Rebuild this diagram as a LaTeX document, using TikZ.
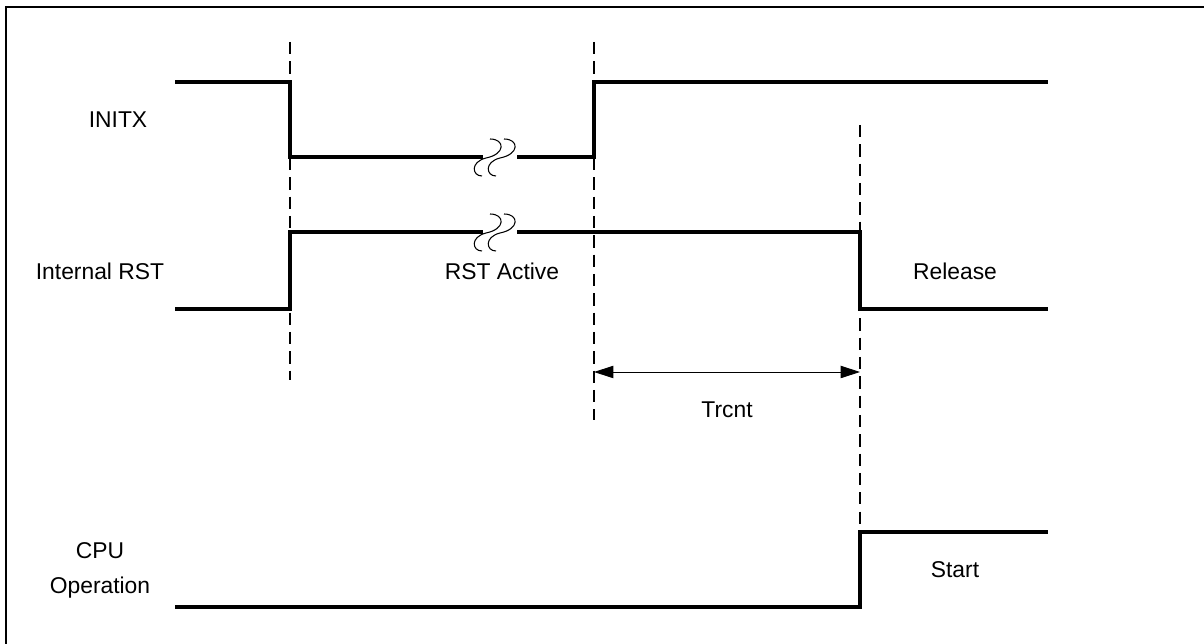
\documentclass[tikz,border=0pt]{standalone}
\usepackage{fontspec}
\setmainfont{Liberation Sans}
\usetikzlibrary{arrows.meta,positioning}
\tikzset{
  signal/.style={line width=2pt, line join=miter},
  marker/.style={line width=0.8pt, dash pattern=on 7pt off 4pt},
  span/.style={line width=0.5pt, {Triangle[length=11pt,width=7pt]}-{Triangle[length=11pt,width=7pt]}},
  lbl/.style={font=\fontsize{13}{20}\selectfont, align=center, inner sep=0pt},
  brk/.pic={
    \draw[line width=0.6pt] (-10,-18) .. controls (5,-18) and (6,-3) .. (-14,1)
      .. controls (-30,5) and (-28,19) .. (-18,19);
    \draw[line width=0.6pt] (4,-18) .. controls (19,-18) and (20,-3) .. (0,1)
      .. controls (-16,5) and (-14,19) .. (-4,19);
  }
}
\begin{document}
\begin{tikzpicture}[x=0.02cm, y=-0.02cm]
  \useasboundingbox (0,0) rectangle (1204,644);
  % frame (top and left edges only)
  \draw[line width=1.1pt] (1204,7) -- (6,7) -- (6,644);

  % edge times
  \coordinate (t1) at (290,0);
  \coordinate (t2) at (594,0);
  \coordinate (t3) at (860,0);

  % Signal names
  \node[lbl] (initx) at (118,120) {INITX};
  \node[lbl] (irst) at (100,271) {Internal RST};
  \node[lbl] (cpu) at (100,570) {CPU\\Operation};

  % INITX
  \draw[signal] (175,82) -- (290,82) -- (290,157) -- (483,157);
  \draw[signal] (517,157) -- (594,157) -- (594,82) -- (1048,82);
  \pic at (500,157) {brk};

  % Internal RST
  \draw[signal] (175,309) -- (290,309) -- (290,232) -- (483,232);
  \draw[signal] (517,232) -- (860,232) -- (860,309) -- (1048,309);
  \pic at (500,232) {brk};
  \node[lbl] (active) at (502,271) {RST Active};
  \node[lbl] (release) at (955,271) {Release};

  % CPU Operation
  \draw[signal] (175,607) -- (860,607) -- (860,532) -- (1048,532);
  \node[lbl] (start) at (955,570) {Start};

  % Timing markers
  \draw[marker] (t1 |- 0,42) -- (t1 |- 0,380);
  \draw[marker] (t2 |- 0,42) -- (t2 |- 0,420);
  \draw[marker] (t3 |- 0,125) -- (t3 |- 0,540);

  % Trcnt
  \coordinate (a1) at (594,372);
  \coordinate (a2) at (860,372);
  \draw[span] (a1) -- (a2);
  \node[lbl] (trcnt) at (727,410) {Trcnt};
\end{tikzpicture}
\end{document}
